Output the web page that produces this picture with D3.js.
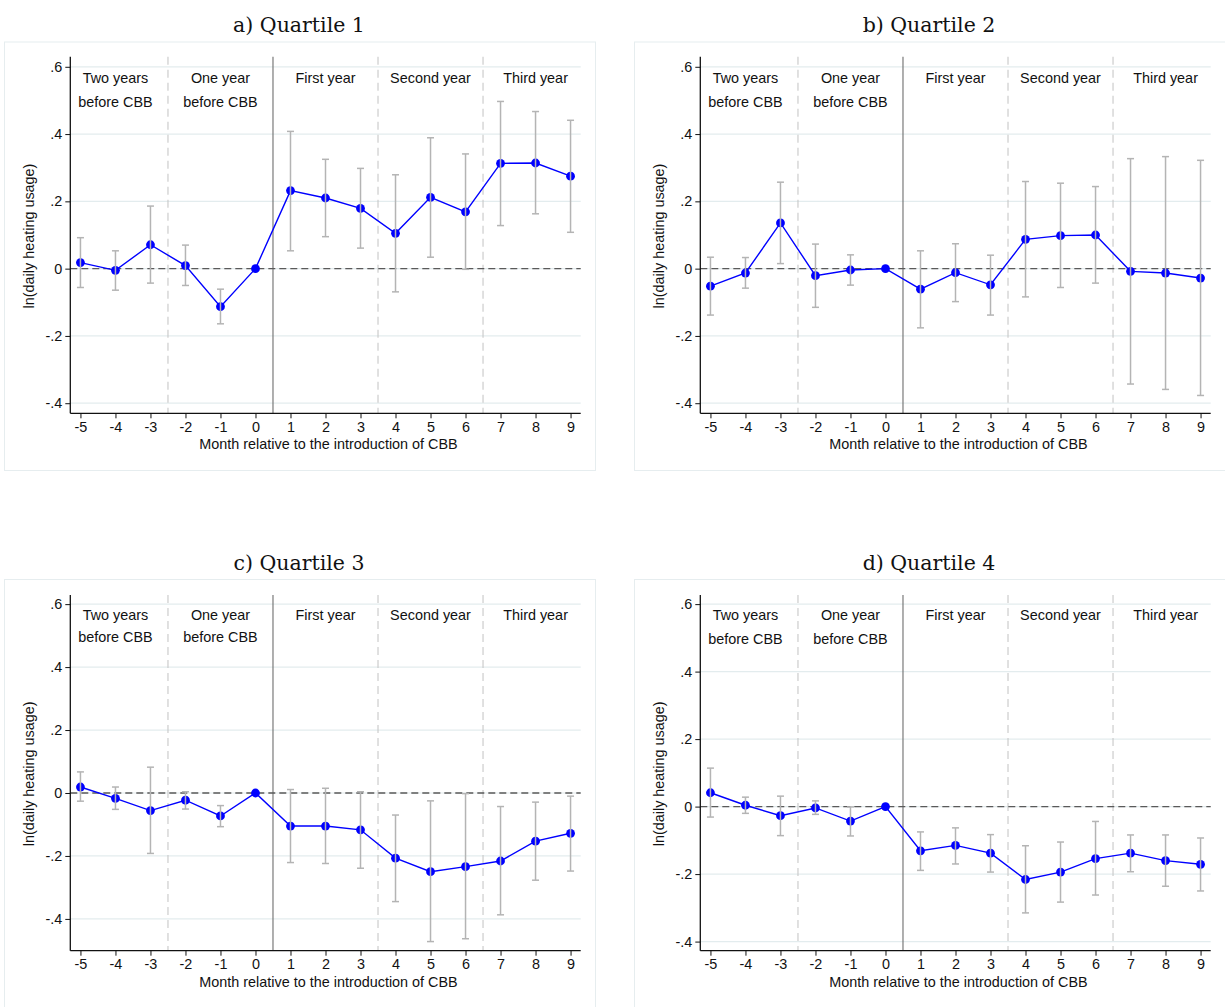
<!DOCTYPE html>
<html>
<head>
<meta charset="utf-8">
<script src="https://cdn.jsdelivr.net/npm/d3@7"></script>
<style>
  body { margin: 0; background: #fff; }
  svg { display: block; }
</style>
</head>
<body>
<svg id="chart" width="1225" height="1007"></svg>
<script>
// Event-study estimates: month relative to the introduction of CBB
const months = [-5, -4, -3, -2, -1, 0, 1, 2, 3, 4, 5, 6, 7, 8, 9];
const xTickLabels = ["-5", "-4", "-3", "-2", "-1", "0", "1", "2", "3", "4", "5", "6", "7", "8", "9"];
const yTicks = [-0.4, -0.2, 0, 0.2, 0.4, 0.6];
const yTickLabels = ["-.4", "-.2", "0", ".2", ".4", ".6"];

// Period annotations (centre month, first line, second line)
const periodCenters = [-4, -1, 2, 5, 8];
const periodLine1 = ["Two years", "One year", "First year", "Second year", "Third year"];
const periodLine2 = ["before CBB", "before CBB", "", "", ""];
const periodBreaks = [-2.5, 3.5, 6.5];
const treatmentBreak = 0.5;

// Quartile 1
const q1Coef = [0.018, -0.005, 0.071, 0.009, -0.113, 0, 0.232, 0.210, 0.179, 0.105, 0.212, 0.169, 0.313, 0.314, 0.275];
const q1Lo   = [-0.056, -0.064, -0.043, -0.050, -0.164, 0, 0.053, 0.095, 0.061, -0.069, 0.034, -0.002, 0.128, 0.163, 0.108];
const q1Hi   = [0.092, 0.053, 0.186, 0.070, -0.061, 0, 0.408, 0.325, 0.298, 0.279, 0.389, 0.341, 0.497, 0.467, 0.441];

// Quartile 2
const q2Coef = [-0.052, -0.013, 0.136, -0.021, -0.004, 0, -0.061, -0.012, -0.048, 0.087, 0.098, 0.100, -0.008, -0.013, -0.028];
const q2Lo   = [-0.138, -0.058, 0.015, -0.115, -0.049, 0, -0.176, -0.098, -0.138, -0.084, -0.056, -0.043, -0.343, -0.359, -0.377];
const q2Hi   = [0.034, 0.033, 0.257, 0.073, 0.041, 0, 0.053, 0.074, 0.040, 0.259, 0.254, 0.244, 0.327, 0.333, 0.322];

// Quartile 3
const q3Coef = [0.019, -0.017, -0.056, -0.023, -0.073, 0, -0.105, -0.105, -0.117, -0.207, -0.250, -0.234, -0.216, -0.153, -0.128];
const q3Lo   = [-0.026, -0.052, -0.192, -0.051, -0.107, 0, -0.221, -0.224, -0.239, -0.345, -0.472, -0.463, -0.387, -0.277, -0.248];
const q3Hi   = [0.067, 0.019, 0.082, 0.004, -0.040, 0, 0.011, 0.015, 0.004, -0.070, -0.025, -0.002, -0.043, -0.029, -0.010];

// Quartile 4
const q4Coef = [0.041, 0.004, -0.027, -0.004, -0.043, 0, -0.131, -0.115, -0.138, -0.216, -0.194, -0.154, -0.138, -0.160, -0.171];
const q4Lo   = [-0.031, -0.020, -0.086, -0.023, -0.087, 0, -0.189, -0.170, -0.194, -0.315, -0.283, -0.262, -0.193, -0.236, -0.250];
const q4Hi   = [0.114, 0.028, 0.031, 0.017, -0.001, 0, -0.075, -0.063, -0.083, -0.116, -0.105, -0.044, -0.084, -0.084, -0.093];

const panels = [
  { title: "a) Quartile 1", coef: q1Coef, lo: q1Lo, hi: q1Hi, col: 0, row: 0, yDomain: [-0.43, 0.63] },
  { title: "b) Quartile 2", coef: q2Coef, lo: q2Lo, hi: q2Hi, col: 1, row: 0, yDomain: [-0.43, 0.63] },
  { title: "c) Quartile 3", coef: q3Coef, lo: q3Lo, hi: q3Hi, col: 0, row: 1, yDomain: [-0.501, 0.629] },
  { title: "d) Quartile 4", coef: q4Coef, lo: q4Lo, hi: q4Hi, col: 1, row: 1, yDomain: [-0.427, 0.627] }
];

const svg = d3.select("#chart");
const sansFont = "'Liberation Sans', Arial, Helvetica, sans-serif";
const serifFont = "'DejaVu Serif', 'Liberation Serif', serif";

const colOffset = [0, 630];
const rowTop = [56.7, 595];
const rowBottom = [413.3, 950.7];
const frameTop = [42, 579.5];
const plotLeft = 70.3, plotRight = 580.7;

panels.forEach(p => {
  const ox = colOffset[p.col];
  const g = svg.append("g").attr("transform", `translate(${ox},0)`);

  // panel frame
  g.append("rect")
    .attr("x", 4.5).attr("y", frameTop[p.row])
    .attr("width", 591).attr("height", 428.5)
    .attr("fill", "none").attr("stroke", "#e6edef").attr("stroke-width", 1);

  // title
  g.append("text")
    .attr("x", 299).attr("y", frameTop[p.row] - 10)
    .attr("text-anchor", "middle")
    .attr("font-family", serifFont).attr("font-size", 20.5)
    .attr("fill", "#111")
    .text(p.title);

  const x = d3.scaleLinear().domain([-5.29, 9.29]).range([plotLeft, plotRight]);
  const y = d3.scaleLinear().domain(p.yDomain).range([rowBottom[p.row], rowTop[p.row]]);

  // gridlines
  g.append("g").selectAll("line").data(yTicks).join("line")
    .attr("x1", plotLeft).attr("x2", plotRight)
    .attr("y1", d => y(d)).attr("y2", d => y(d))
    .attr("stroke", "#e3ecee").attr("stroke-width", 1.2);

  // period separators
  g.append("g").selectAll("line").data(periodBreaks).join("line")
    .attr("x1", d => x(d)).attr("x2", d => x(d))
    .attr("y1", rowTop[p.row]).attr("y2", rowBottom[p.row])
    .attr("stroke", "#c8c8c8").attr("stroke-width", 1.1)
    .attr("stroke-dasharray", "8,5");

  g.append("line")
    .attr("x1", x(treatmentBreak)).attr("x2", x(treatmentBreak))
    .attr("y1", rowTop[p.row]).attr("y2", rowBottom[p.row])
    .attr("stroke", "#6e6e6e").attr("stroke-width", 1.1);

  // zero reference line
  g.append("line")
    .attr("x1", plotLeft).attr("x2", plotRight)
    .attr("y1", y(0)).attr("y2", y(0))
    .attr("stroke", "#5a5a5a").attr("stroke-width", 1.3)
    .attr("stroke-dasharray", "7,4");

  // period labels
  const labels = g.append("g")
    .attr("font-family", sansFont).attr("font-size", 14.4).attr("fill", "#111")
    .attr("text-anchor", "middle");
  labels.selectAll("text.l1").data(periodCenters).join("text")
    .attr("class", "l1")
    .attr("x", d => x(d)).attr("y", y(0.567)).attr("dy", "0.35em")
    .text((d, i) => periodLine1[i]);
  labels.selectAll("text.l2").data(periodCenters).join("text")
    .attr("class", "l2")
    .attr("x", d => x(d)).attr("y", y(0.496)).attr("dy", "0.35em")
    .text((d, i) => periodLine2[i]);

  // axes
  const yAxis = d3.axisLeft(y).tickValues(yTicks)
    .tickFormat((d, i) => yTickLabels[i]).tickSize(5).tickPadding(3);
  const ya = g.append("g").attr("transform", `translate(${plotLeft},0)`).call(yAxis);
  ya.select(".domain").attr("d", `M0,${rowTop[p.row]}V${rowBottom[p.row]}`);

  const xAxis = d3.axisBottom(x).tickValues(months)
    .tickFormat((d, i) => xTickLabels[i]).tickSize(5).tickPadding(3);
  const xa = g.append("g").attr("transform", `translate(0,${rowBottom[p.row]})`).call(xAxis);
  xa.select(".domain").attr("d", `M${plotLeft},0H${plotRight}`);

  [ya, xa].forEach(a => {
    a.select(".domain").attr("stroke", "#111").attr("stroke-width", 1.3);
    a.selectAll(".tick line").attr("stroke", "#111").attr("stroke-width", 1);
    a.selectAll(".tick text").attr("font-family", sansFont).attr("font-size", 14.4).attr("fill", "#111");
  });

  // axis titles
  g.append("text")
    .attr("x", (plotLeft + plotRight) / 2 + 3).attr("y", rowBottom[p.row] + 36)
    .attr("text-anchor", "middle")
    .attr("font-family", sansFont).attr("font-size", 14.4).attr("fill", "#111")
    .text("Month relative to the introduction of CBB");

  g.append("text")
    .attr("transform", `translate(34,${(rowTop[p.row] + rowBottom[p.row]) / 2 + 1}) rotate(-90)`)
    .attr("text-anchor", "middle")
    .attr("font-family", sansFont).attr("font-size", 14.4).attr("fill", "#111")
    .text("ln(daily heating usage)");

  const pts = months.map((m, i) => ({ m, c: p.coef[i], lo: p.lo[i], hi: p.hi[i] }));

  // estimate line
  g.append("path").datum(pts)
    .attr("d", d3.line().x(d => x(d.m)).y(d => y(d.c)))
    .attr("fill", "none").attr("stroke", "#0000ff").attr("stroke-width", 1.4);

  // point estimates
  g.append("g").selectAll("circle").data(pts).join("circle")
    .attr("cx", d => x(d.m)).attr("cy", d => y(d.c)).attr("r", 4.4)
    .attr("fill", "#0000ff");

  // confidence intervals
  const ci = g.append("g").attr("stroke", "#b4b4b4").attr("stroke-width", 1.5).attr("fill", "none");
  const ciPts = pts.filter(d => d.hi !== d.lo);
  ci.selectAll("line.v").data(ciPts).join("line")
    .attr("class", "v")
    .attr("x1", d => x(d.m)).attr("x2", d => x(d.m))
    .attr("y1", d => y(d.lo)).attr("y2", d => y(d.hi));
  ci.selectAll("line.t").data(ciPts).join("line")
    .attr("class", "t")
    .attr("x1", d => x(d.m) - 3.5).attr("x2", d => x(d.m) + 3.5)
    .attr("y1", d => y(d.hi)).attr("y2", d => y(d.hi));
  ci.selectAll("line.b").data(ciPts).join("line")
    .attr("class", "b")
    .attr("x1", d => x(d.m) - 3.5).attr("x2", d => x(d.m) + 3.5)
    .attr("y1", d => y(d.lo)).attr("y2", d => y(d.lo));
});
</script>
</body>
</html>
